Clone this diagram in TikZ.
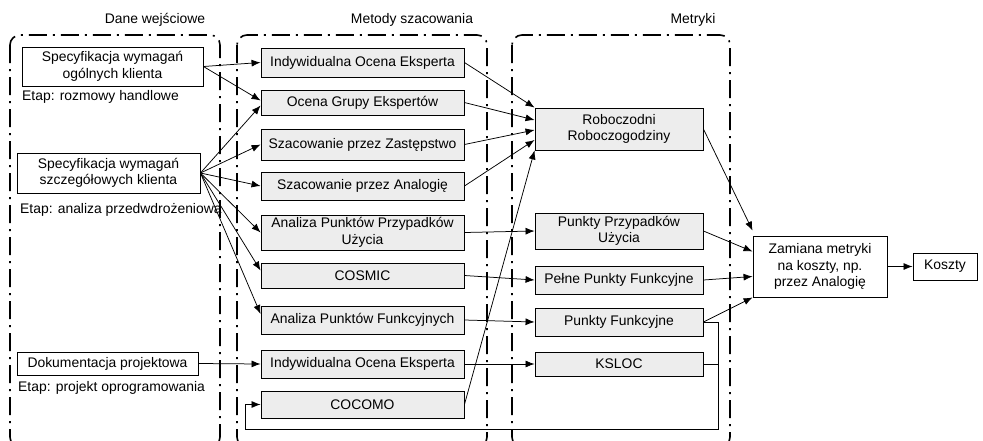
\documentclass[tikz,border=0pt]{standalone}
\usepackage{fontspec}
\setmainfont{Liberation Sans}
\usetikzlibrary{arrows.meta}
\begin{document}
\begin{tikzpicture}[x=1pt,y=-1pt,>={Latex[length=9pt,width=7pt]},
  font=\fontsize{13.9}{16.5}\selectfont,
  inbox/.style={draw,line width=0.9pt,align=center,inner sep=0pt},
  metbox/.style={draw,fill=black!7,line width=0.9pt,align=center,inner sep=0pt,minimum width=203pt},
  mbox/.style={draw,fill=black!7,line width=0.9pt,align=center,inner sep=0pt,minimum width=168pt},
  group/.style={line width=1.6pt,rounded corners=10pt,dash pattern=on 18pt off 6pt on 2pt off 6pt},
  conn/.style={->,line width=0.75pt}]
\useasboundingbox (0,0) rectangle (983,440);

\draw[group] (10,35) rectangle (220,447);
\draw[group] (237,35) rectangle (487,447);
\draw[group] (512,35) rectangle (730,447);
\node (gin) at (155,20) {Dane wejściowe};
\node (gmet) at (412,20) {Metody szacowania};
\node (gmtr) at (693,20) {Metryki};

\node[inbox, minimum width=181pt, minimum height=39pt] (spec1) at (112.5,66.5) {Specyfikacja wymagań\\ogólnych klienta};
\node[anchor=west, inner sep=0pt] (etap1) at (22,97) {Etap: rozmowy handlowe};
\node[inbox, minimum width=183pt, minimum height=40pt] (spec2) at (108.5,173) {Specyfikacja wymagań\\szczegółowych klienta};
\node[anchor=west, inner sep=0pt] (etap2) at (20,210) {Etap: analiza przedwdrożeniowa};
\node[inbox, minimum width=181pt, minimum height=23pt] (dok) at (107.5,363.5) {Dokumentacja projektowa};
\node[anchor=west, inner sep=0pt] (etap3) at (18,388) {Etap: projekt oprogramowania};

\node[metbox, minimum height=29pt] (m1) at (362.5,62.5) {Indywidualna Ocena Eksperta};
\node[metbox, minimum height=25pt] (m2) at (362.5,102.5) {Ocena Grupy Ekspertów};
\node[metbox, minimum height=31pt] (m3) at (362.5,144.5) {Szacowanie przez Zastępstwo};
\node[metbox, minimum height=28pt] (m4) at (362.5,186) {Szacowanie przez Analogię};
\node[metbox, minimum height=35pt] (m5) at (362.5,232.5) {Analiza Punktów Przypadków\\Użycia};
\node[metbox, minimum height=25pt] (m6) at (362.5,275.5) {COSMIC};
\node[metbox, minimum height=28pt] (m7) at (362.5,320) {Analiza Punktów Funkcyjnych};
\node[metbox, minimum height=28pt] (m8) at (362.5,364) {Indywidualna Ocena Eksperta};
\node[metbox, minimum height=27pt] (m9) at (362.5,404.5) {COCOMO};

\node[mbox, minimum height=42pt] (rob) at (619,129) {Roboczodni\\Roboczogodziny};
\node[mbox, minimum height=36pt] (ppu) at (619,231) {Punkty Przypadków\\Użycia};
\node[mbox, minimum height=28pt] (ppf) at (619,280) {Pełne Punkty Funkcyjne};
\node[mbox, minimum height=28pt] (pf) at (619,322) {Punkty Funkcyjne};
\node[mbox, minimum height=24pt] (ksloc) at (619,364) {KSLOC};

\node[inbox, minimum width=134pt, minimum height=61pt] (zam) at (820,266.5) {Zamiana metryki\\na koszty, np.\\przez Analogię};
\node[inbox, minimum width=64pt, minimum height=27pt] (koszty) at (945,266.5) {Koszty};

\coordinate (loopR) at (718,429);
\coordinate (loopL) at (245,429);

\draw[conn] (spec1.east) -- (m1.west);
\draw[conn] (spec1.east) -- ([yshift=2]m2.west);
\draw[conn] (spec2.east) -- ([yshift=-3]m2.west);
\draw[conn] (spec2.east) -- (m3.west);
\draw[conn] (spec2.east) -- (m4.west);
\draw[conn] (spec2.east) -- (m5.west);
\draw[conn] (spec2.east) -- ([yshift=5]m6.west);
\draw[conn] (spec2.east) -- ([yshift=6]m7.west);
\draw[conn] (dok.east) -- (m8.west);

\draw[conn] (m1.east) -- (rob.north west);
\draw[conn] (m2.east) -- ([yshift=9]rob.west);
\draw[conn] (m3.east) -- ([yshift=-1]rob.west);
\draw[conn] (m4.east) -- ([yshift=-11]rob.west);
\draw[conn] (m9.east) -- (rob.south west);
\draw[conn] (m5.east) -- (ppu.west);
\draw[conn] (m6.east) -- (ppf.west);
\draw[conn] (m7.east) -- (pf.west);
\draw[conn] (m8.east) -- (ksloc.west);

\draw[conn] (rob.east) -- ([yshift=5]zam.north west);
\draw[conn] (ppu.east) -- ([yshift=15]zam.west);
\draw[conn] (ppf.east) -- ([yshift=-10]zam.west);
\draw[conn] (pf.east) -- (zam.south west);
\draw[conn] (pf.east) -| (loopR) -- (loopL) |- (m9.west);
\draw[line width=0.75pt] (ksloc.east) -- (ksloc.east -| loopR);
\draw[conn] (zam.east) -- (koszty.west);
\end{tikzpicture}
\end{document}
